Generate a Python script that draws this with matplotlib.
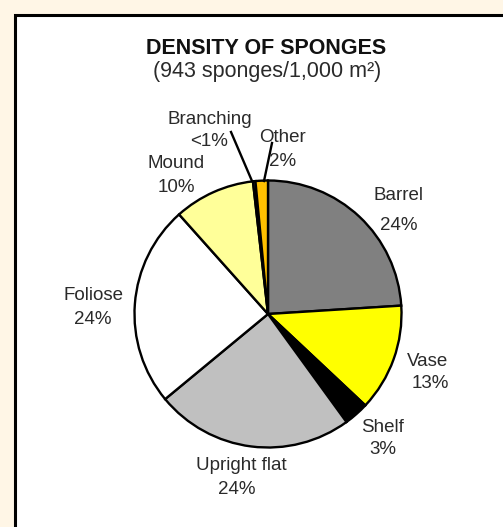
import matplotlib
matplotlib.use("Agg")
import matplotlib.pyplot as plt
from matplotlib.patches import Rectangle

plt.rcParams['font.family'] = ['Liberation Sans', 'DejaVu Sans']

categories = ["Barrel", "Vase", "Shelf", "Upright flat", "Foliose", "Mound", "Branching", "Other"]
values = [24, 13, 3, 24, 24.4, 9.8, 0.3, 1.5]
pct_labels = ["24%", "13%", "3%", "24%", "24%", "10%", "<1%", "2%"]
colors = ["#808080", "#FFFF00", "#000000", "#C0C0C0", "#FFFFFF", "#FFFF99", "#FFFFFF", "#FFC000"]

title = "DENSITY OF SPONGES"
subtitle = "(943 sponges/1,000 m²)"

W, H = 503, 527
fig = plt.figure(figsize=(W / 100, H / 100), dpi=100, facecolor="#FFF6E6")
ax = fig.add_axes([0, 0, 1, 1])
ax.set_xlim(0, W)
ax.set_ylim(0, H)
ax.axis("off")

def Y(y):
    return H - y

# white panel with black frame
ax.add_patch(Rectangle((15, -20), W, Y(15) + 20, facecolor="white",
                       edgecolor="black", linewidth=2.2, zorder=0))

cx, cy, r = 268, 314, 133.5
ax.pie(values, colors=colors, startangle=90, counterclock=False,
       center=(cx, Y(cy)), radius=r, frame=True,
       wedgeprops=dict(edgecolor="black", linewidth=1.7))
ax.set_xlim(0, W)
ax.set_ylim(0, H)
ax.set_aspect("equal")
ax.axis("off")

tc = "#2a2a2a"
ax.text(266, Y(48), title, ha="center", va="center", fontsize=15.5,
        fontweight="bold", color="#111111")
ax.text(267, Y(72), subtitle, ha="center", va="center", fontsize=15.5, color=tc)

# label positions (image pixel coords): name centre, pct centre
label_pos = {
    "Barrel": ((399, 196), (399, 225)),
    "Vase": ((428, 361), (430, 384)),
    "Shelf": ((383, 427), (383, 449)),
    "Upright flat": ((241, 466), (237, 490)),
    "Foliose": ((94, 296), (93, 320)),
    "Mound": ((176, 164), (176, 187)),
    "Branching": ((210, 120), (209, 141)),
    "Other": ((283, 138), (283, 161)),
}
fs = 13.5
for cat, pct in zip(categories, pct_labels):
    (nx, ny), (px, py) = label_pos[cat]
    ax.text(nx, Y(ny), cat, ha="center", va="center", fontsize=fs, color=tc)
    ax.text(px, Y(py), pct, ha="center", va="center", fontsize=fs, color=tc)

# leader lines
ax.plot([231, 252], [Y(132), Y(181)], color="black", lw=1.7)
ax.plot([272, 264], [Y(143), Y(181)], color="black", lw=1.7)

fig.savefig("out.png", dpi=100, facecolor=fig.get_facecolor())
